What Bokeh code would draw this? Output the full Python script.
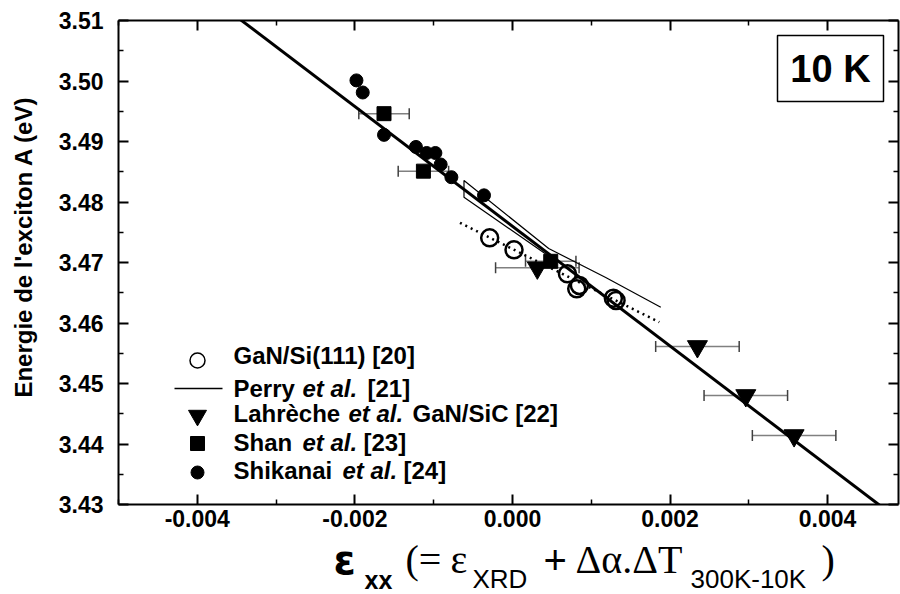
from math import pi
from bokeh.plotting import figure
from bokeh.layouts import row, column
from bokeh.models import (Range1d, LinearAxis, FixedTicker, NumeralTickFormatter,
                          CustomJSTickFormatter, Whisker, TeeHead, ColumnDataSource,
                          Label, BoxAnnotation)
from bokeh.embed import file_html
from bokeh.resources import INLINE

# ---------------- data ----------------
x_major = [-0.004, -0.002, 0.0, 0.002, 0.004]
x_minor = [-0.005, -0.003, -0.001, 0.001, 0.003]
y_major = [3.43, 3.44, 3.45, 3.46, 3.47, 3.48, 3.49, 3.50, 3.51]
y_minor = [3.435, 3.445, 3.455, 3.465, 3.475, 3.485, 3.495, 3.505]

fit_x = [-0.0036, 0.0048]
fit_y = [3.5116, 3.4285]

gansi_x = [-0.000289, 0.000020, 0.000698, 0.000816, 0.000850, 0.001281, 0.001315]
gansi_y = [3.47408, 3.47210, 3.46813, 3.46565, 3.46620, 3.46410, 3.46372]
gansi_fit_x = [-0.000666, 0.001864]
gansi_fit_y = [3.47656, 3.46014]

perry_x = [0.001883, 0.001184, 0.000460, -0.000615, -0.000615, 0.000486]
perry_y = [3.46261, 3.46752, 3.47231, 3.48355, 3.48079, 3.47083]

lahreche_x = [0.000316, 0.002348, 0.002962, 0.003575]
lahreche_y = [3.46912, 3.45612, 3.44802, 3.44140]
lahreche_err = [0.00053, 0.00053, 0.00053, 0.00053]

shan_x = [-0.00163, -0.00113, 0.000486]
shan_y = [3.4946, 3.4851, 3.4702]
shan_err = [0.00032, 0.00032, 0.00032]

shikanai_x = [-0.00198, -0.00190, -0.00163, -0.001225, -0.001089, -0.000978,
              -0.000911, -0.000775, -0.000361]
shikanai_y = [3.5001, 3.4981, 3.4911, 3.4891, 3.4881, 3.4881, 3.4862, 3.4841, 3.4811]

legend_rows = [
    [("GaN/Si(111) [20]", 233, "bold")],
    [("Perry", 233, "bold"), ("et al.", 302, "bold italic"), ("[21]", 367, "bold")],
    [("Lahrèche", 233, "bold"), ("et al.", 348, "bold italic"), ("GaN/SiC [22]", 412, "bold")],
    [("Shan", 233, "bold"), ("et al.", 302, "bold italic"), ("[23]", 363, "bold")],
    [("Shikanai", 233, "bold"), ("et al.", 342, "bold italic"), ("[24]", 403, "bold")],
]

y_title = "Energie de l'exciton A (eV)"

# ---------------- layout ----------------
SANS = "Liberation Sans"
SERIF = "Liberation Serif"
X_MIN, X_MAX = -0.005, 0.0049
Y_MIN, Y_MAX = 3.43, 3.51
W, H = 900, 594
YT_W = 40            # width of the y-title strip
MAIN_H = 535         # height of the main plot
FL, FR, FT, FB = 118, 898, 20, 504   # frame edges in page pixels


def sx(px):
    return X_MIN + (px - FL) / (FR - FL) * (X_MAX - X_MIN)


def sy(py):
    return Y_MAX - (py - FT) / (FB - FT) * (Y_MAX - Y_MIN)


def bare_fig(w, h):
    f = figure(width=w, height=h, x_range=Range1d(0, w), y_range=Range1d(0, h),
               output_backend="svg", toolbar_location=None, min_border=0, title=None,
               x_axis_location=None, y_axis_location=None)
    f.outline_line_color = None
    f.background_fill_color = "white"
    f.border_fill_color = "white"
    for g in f.grid:
        g.visible = False
    return f


p = figure(width=W - YT_W, height=MAIN_H, x_range=Range1d(X_MIN, X_MAX),
           y_range=Range1d(Y_MIN, Y_MAX), output_backend="svg", toolbar_location=None,
           title=None, min_border_left=FL - YT_W, min_border_right=W - FR,
           min_border_top=FT, min_border_bottom=MAIN_H - FB)
p.outline_line_color = None
p.xgrid.visible = False
p.ygrid.visible = False
p.background_fill_color = "white"
p.border_fill_color = "white"

xt = FixedTicker(ticks=x_major, minor_ticks=x_minor)
yt = FixedTicker(ticks=y_major, minor_ticks=y_minor)


def style(ax):
    ax.axis_line_width = 2
    ax.axis_line_color = "black"
    ax.major_tick_in = 10
    ax.major_tick_out = 0
    ax.minor_tick_in = 5
    ax.minor_tick_out = 0
    ax.major_tick_line_width = 2
    ax.minor_tick_line_width = 1.5
    ax.major_tick_line_color = "black"
    ax.minor_tick_line_color = "black"
    ax.major_label_text_font = SANS
    ax.major_label_text_font_style = "bold"
    ax.major_label_text_font_size = "23px"
    ax.major_label_text_color = "black"


xa = p.xaxis[0]
xa.ticker = xt
xa.formatter = NumeralTickFormatter(format="0.000")
style(xa)
xa.major_label_standoff = 5

ya = p.yaxis[0]
ya.ticker = yt
ya.formatter = NumeralTickFormatter(format="0.00")
style(ya)
ya.major_label_standoff = 15

for loc, tick in (("above", xt), ("right", yt)):
    ax = LinearAxis(ticker=tick, formatter=CustomJSTickFormatter(code="return ''"))
    style(ax)
    ax.major_label_text_font_size = "0px"
    ax.major_label_standoff = 0
    p.add_layout(ax, loc)

# ---------------- lines ----------------
p.line(fit_x, fit_y, line_color="black", line_width=3)
p.line(perry_x, perry_y, line_color="black", line_width=1.2)
p.line(gansi_fit_x, gansi_fit_y, line_color="black", line_width=2.5, line_dash="2 4")

# ---------------- error bars ----------------
for xs, ys, es in ((lahreche_x, lahreche_y, lahreche_err), (shan_x, shan_y, shan_err)):
    src = ColumnDataSource(dict(y=ys, lower=[a - e for a, e in zip(xs, es)],
                                upper=[a + e for a, e in zip(xs, es)]))
    w = Whisker(source=src, base="y", lower="lower", upper="upper", dimension="width",
                line_color="#808080", line_width=1.5,
                upper_head=TeeHead(size=11, line_color="#404040", line_width=1.5),
                lower_head=TeeHead(size=11, line_color="#404040", line_width=1.5))
    p.add_layout(w)

# ---------------- markers ----------------
p.scatter(gansi_x, gansi_y, marker="circle", size=17, fill_color=None,
          line_color="black", line_width=2.5)
p.scatter(lahreche_x, lahreche_y, marker="inverted_triangle", size=20,
          fill_color="black", line_color="black")
p.scatter(shan_x, shan_y, marker="square", size=14, fill_color="black", line_color="black")
p.scatter(shikanai_x, shikanai_y, marker="circle", size=13, fill_color="black", line_color="black")

# ---------------- legend ----------------
LX = 197
row_text_y = [355, 388, 413, 442, 470]
row_mark_y = [360, 388, 415, 443, 472]
p.scatter([sx(LX)], [sy(row_mark_y[0])], marker="circle", size=15, fill_color=None,
          line_color="black", line_width=1.5)
p.line([sx(174), sx(222)], [sy(row_mark_y[1])] * 2, line_color="black", line_width=1.5)
p.scatter([sx(LX)], [sy(row_mark_y[2])], marker="inverted_triangle", size=18,
          fill_color="black", line_color="black")
p.scatter([sx(LX)], [sy(row_mark_y[3])], marker="square", size=14,
          fill_color="black", line_color="black")
p.scatter([sx(LX)], [sy(row_mark_y[4])], marker="circle", size=13,
          fill_color="black", line_color="black")

for items, ty in zip(legend_rows, row_text_y):
    for txt, px, st in items:
        p.add_layout(Label(x=sx(px), y=sy(ty), text=txt, text_font=SANS,
                           text_font_style=st, text_font_size="24px",
                           text_color="black", text_align="left", text_baseline="middle"))

# ---------------- 10 K box ----------------
p.add_layout(BoxAnnotation(left=sx(777), right=sx(883), top=sy(35), bottom=sy(101),
                           fill_color=None, fill_alpha=0, line_color="black",
                           line_alpha=1.0, line_width=1.5))
p.add_layout(Label(x=sx(830), y=sy(68), text="10 K", text_font=SANS, text_font_style="bold",
                   text_font_size="38px", text_color="black", text_align="center",
                   text_baseline="middle"))

# ---------------- y axis title (separate strip) ----------------
yfig = bare_fig(YT_W, MAIN_H)
yfig.add_layout(Label(x=23, y=MAIN_H - 250, text=y_title, angle=pi / 2,
                      text_font=SANS, text_font_style="bold", text_font_size="24px",
                      text_color="black", text_align="center", text_baseline="middle"))

# ---------------- x axis title (separate strip, mixed fonts) ----------------
XT_H = H - MAIN_H
xfig = bare_fig(W, XT_H)
MAIN_BL, SUB_BL = 573, 588
pieces = [
    ("ε", 333, MAIN_BL, "DejaVu Sans", "bold", 40),
    ("xx", 364, SUB_BL, SANS, "bold", 25),
    ("(=", 405, MAIN_BL, SERIF, "normal", 40),
    ("ε", 450, MAIN_BL, SERIF, "normal", 40),
    ("XRD", 472, SUB_BL, SANS, "normal", 26),
    ("+", 543, MAIN_BL, SANS, "normal", 40),
    ("Δα.ΔT", 575, MAIN_BL, SERIF, "normal", 40),
    ("300K-10K", 690, SUB_BL, SANS, "normal", 26),
    (")", 821, MAIN_BL, SERIF, "normal", 40),
]
for txt, px, bl, font, st, fs in pieces:
    mid = bl - 0.35 * fs          # centre of the text line, page pixels
    xfig.add_layout(Label(x=px, y=H - mid, text=txt, text_font=font, text_font_style=st,
                          text_font_size=f"{fs}px", text_color="black", text_align="left",
                          text_baseline="middle"))

layout = column(row(yfig, p, spacing=0), xfig, spacing=0)
open("out.html", "w").write(file_html(layout, INLINE))
